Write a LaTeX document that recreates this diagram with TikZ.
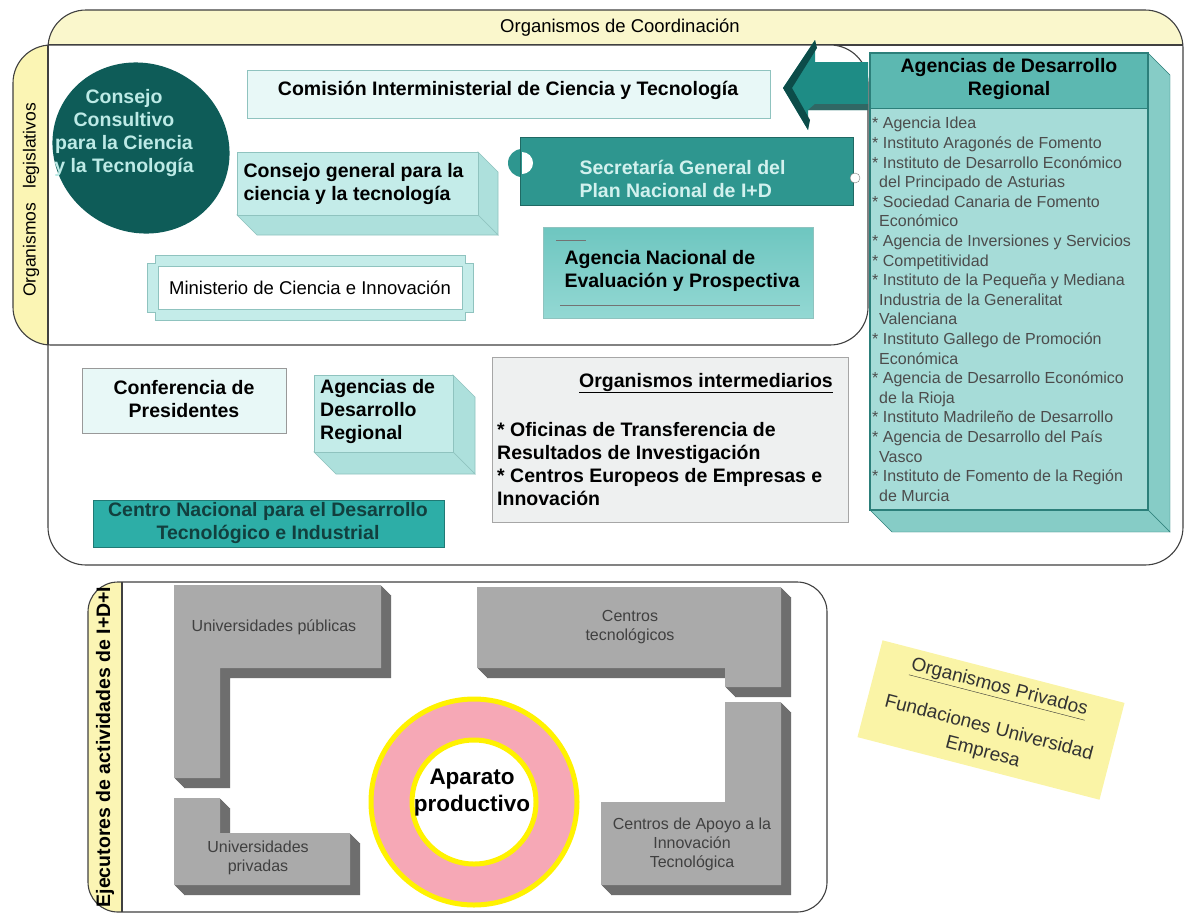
\documentclass[tikz,border=0pt]{standalone}
\usepackage{fontspec}
\setmainfont{Liberation Sans}
\definecolor{coordyel}{HTML}{FAF7CC}
\definecolor{stripyel}{HTML}{FBF5B4}
\definecolor{blobteal}{HTML}{0E5C58}
\definecolor{blobtext}{HTML}{BDEAE6}
\definecolor{boxpale}{HTML}{E8F8F7}
\definecolor{boxedge}{HTML}{8FC3BF}
\definecolor{cgfront}{HTML}{C4ECE9}
\definecolor{cgside}{HTML}{ADE0DC}
\definecolor{secteal}{HTML}{2E968F}
\definecolor{sectext}{HTML}{D2F1EE}
\definecolor{anepA}{HTML}{6EC6C0}
\definecolor{anepB}{HTML}{93D8D3}
\definecolor{arrowteal}{HTML}{1E8C85}
\definecolor{arrowdark}{HTML}{0C4C49}
\definecolor{adrhead}{HTML}{5CB8B1}
\definecolor{adrbody}{HTML}{A6DCD8}
\definecolor{adrside}{HTML}{86CCC6}
\definecolor{adredge}{HTML}{2C7F7A}
\definecolor{intergray}{HTML}{EEF0F0}
\definecolor{centroteal}{HTML}{2DAEA7}
\definecolor{centrotext}{HTML}{123F3E}
\definecolor{grayface}{HTML}{AAAAAA}
\definecolor{grayside}{HTML}{6E6E6E}
\definecolor{ringpink}{HTML}{F6A8B6}
\definecolor{ringyel}{HTML}{FFF200}
\definecolor{privyel}{HTML}{FAF4A6}

\begin{document}
\begin{tikzpicture}[x=1pt,y=-1pt,
  frame/.style={draw=black!75,line width=1.1pt},
  lbl/.style={font=\fontsize{18.5}{22}\selectfont},
  bold/.style={font=\fontsize{19.5}{23}\selectfont\bfseries},
  lightbox/.style={draw=boxedge,fill=boxpale,line width=0.8pt},
  sidebox/.style={draw=boxedge,fill=cgside,line width=0.6pt},
  listtxt/.style={font=\fontsize{16}{19.6}\selectfont,text=black!70,align=left,anchor=north west,inner sep=0pt},
  graytxt/.style={font=\fontsize{16}{19}\selectfont,text=black!75,align=center}]
  \useasboundingbox (0,0) rectangle (1185,916);

  \begin{scope}
    \clip[rounded corners=38] (48,10) rectangle (1183,565);
    \fill[white] (48,10) rectangle (1183,565);
    \fill[coordyel] (48,10) rectangle (1183,45);
  \end{scope}
  \draw[frame,rounded corners=38] (48,10) rectangle (1183,565);
  \draw[frame] (48,45) -- (1183,45);
  \node[lbl] (coordlbl) at (620,28) {Organismos de Coordinación};

  \begin{scope}
    \clip[rounded corners=38] (13,45) rectangle (868,345);
    \fill[white] (13,45) rectangle (868,345);
    \fill[stripyel] (13,45) rectangle (48,345);
  \end{scope}
  \draw[frame,rounded corners=38] (13,45) rectangle (868,345);
  \draw[frame] (48,45) -- (48,345);
  \node[font=\fontsize{17.5}{20}\selectfont,rotate=90] (leglbl) at (31,200) {Organismos\hspace{14pt}legislativos};

  \fill[blobteal,rotate around={-30:(141,148)}] (141,148) ellipse (90 and 84);
  \node[bold,text=blobtext,align=center] (consultivo) at (124,133) {Consejo\\Consultivo\\para la Ciencia\\y la Tecnología};

  \draw[lightbox] (247,70) rectangle (770,118);
  \node[bold] (comision) at (508,90) {Comisión Interministerial de Ciencia y Tecnología};

  \draw[sidebox] (478,152) -- (498,172) -- (498,235) -- (478,215) -- cycle;
  \draw[sidebox] (237,215) -- (478,215) -- (498,235) -- (257,235) -- cycle;
  \draw[lightbox,fill=cgfront] (237,152) rectangle (478,215);
  \node[bold,align=left,anchor=west] (general) at (240,184) {Consejo general para la\\ciencia y la tecnología};

  \draw[boxedge,line width=0.8pt,fill=cgfront] (147,263) -- (155,263) -- (155,255) -- (465,255) -- (465,263) -- (473,263)
    -- (473,312) -- (465,312) -- (465,320) -- (155,320) -- (155,312) -- (147,312) -- cycle;
  \draw[boxedge,fill=white] (158,266) rectangle (462,309);
  \node[lbl] (ministerio) at (310,288) {Ministerio de Ciencia e Innovación};

  \fill[secteal] (522,163) circle (14);
  \draw[secteal!70!black,line width=0.8pt,fill=secteal] (520,137) rectangle (853,205);
  \fill[white] (522,152) arc[start angle=-90,end angle=90,radius=11] -- cycle;
  \draw[gray,fill=white] (855,178) circle (5);
  \node[bold,text=sectext,align=left,anchor=west] (secretaria) at (576,179) {Secretaría General del\\Plan Nacional de I+D};

  \shade[top color=anepA,bottom color=anepB,draw=boxedge] (543,227) rectangle (813,318);
  \draw[black!55] (556,240) -- (586,240);
  \draw[black!55] (560,305) -- (800,305);
  \node[bold,align=left,anchor=west] (anep) at (561,271) {Agencia Nacional de\\Evaluación y Prospectiva};

  \fill[arrowteal] (868,62) -- (815,62) -- (815,40) -- (783,88) -- (808,130) -- (808,110) -- (868,110) -- cycle;
  \fill[arrowdark] (815,40) -- (783,88) -- (792,88) -- (817,48) -- cycle;
  \fill[arrowdark] (783,88) -- (808,130) -- (810,120) -- (792,88) -- cycle;
  \fill[arrowdark!85] (815,104) -- (868,104) -- (868,110) -- (808,110) -- cycle;

  \draw[adredge,fill=adrside] (1148,53) -- (1170,75) -- (1170,532) -- (1148,510) -- cycle;
  \draw[adredge,fill=adrside] (870,510) -- (1148,510) -- (1170,532) -- (892,532) -- cycle;
  \fill[adrbody] (870,108) rectangle (1148,510);
  \fill[adrhead] (870,53) rectangle (1148,108);
  \draw[adredge,line width=1.3pt] (870,53) rectangle (1148,510);
  \draw[adredge,line width=1pt] (870,108) -- (1148,108);
  \node[bold,align=center] (adrhead) at (1009,79) {Agencias de Desarrollo\\Regional};
  \node[listtxt] (adrlist) at (872,117) {* Agencia Idea\\
    * Instituto Aragonés de Fomento\\
    * Instituto de Desarrollo Económico\\
    \hspace*{7pt}del Principado de Asturias\\
    * Sociedad Canaria de Fomento\\
    \hspace*{7pt}Económico\\
    * Agencia de Inversiones y Servicios\\
    * Competitividad\\
    * Instituto de la Pequeña y Mediana\\
    \hspace*{7pt}Industria de la Generalitat\\
    \hspace*{7pt}Valenciana\\
    * Instituto Gallego de Promoción\\
    \hspace*{7pt}Económica\\
    * Agencia de Desarrollo Económico\\
    \hspace*{7pt}de la Rioja\\
    * Instituto Madrileño de Desarrollo\\
    * Agencia de Desarrollo del País\\
    \hspace*{7pt}Vasco\\
    * Instituto de Fomento de la Región\\
    \hspace*{7pt}de Murcia};

  \draw[lightbox,draw=black!40] (82,368) rectangle (286,433);
  \node[bold,align=center] (conferencia) at (184,399) {Conferencia de\\Presidentes};

  \draw[sidebox] (453,375) -- (475,397) -- (475,474) -- (453,452) -- cycle;
  \draw[sidebox] (314,452) -- (453,452) -- (475,474) -- (336,474) -- cycle;
  \draw[lightbox,fill=cgfront] (314,375) rectangle (453,452);
  \node[bold,align=left,anchor=north west,inner sep=0pt] (adrsmall) at (320,379) {Agencias de\\Desarrollo\\Regional};

  \draw[black!35,fill=intergray] (492,357) rectangle (848,522);
  \node[bold] (intertitle) at (706,383) {\underline{Organismos intermediarios}};
  \node[bold,align=left,anchor=north west,inner sep=0pt] (interlist) at (497,422)
    {* Oficinas de Transferencia de\\Resultados de Investigación\\* Centros Europeos de Empresas e\\Innovación};

  \draw[centroteal!70!black,fill=centroteal] (93,500) rectangle (444,547);
  \node[bold,text=centrotext,align=center] (cdti) at (268,523) {Centro Nacional para el Desarrollo\\Tecnológico e Industrial};

  \begin{scope}
    \clip[rounded corners=30] (88,582) rectangle (827,912);
    \fill[white] (88,582) rectangle (827,912);
    \fill[stripyel] (88,582) rectangle (122,912);
  \end{scope}
  \draw[frame,rounded corners=30] (88,582) rectangle (827,912);
  \draw[frame] (122,582) -- (122,912);
  \node[bold,rotate=90] (ejeclbl) at (105,747) {Ejecutores de actividades de I+D+I};

  \foreach \d in {1,...,10}
    \fill[grayside,shift={(\d,\d)}] (174,585) -- (381,585) -- (381,668) -- (220,668) -- (220,778) -- (174,778) -- cycle;
  \fill[grayface] (174,585) -- (381,585) -- (381,668) -- (220,668) -- (220,778) -- (174,778) -- cycle;
  \node[graytxt] (unipub) at (274,627) {Universidades públicas};

  \foreach \d in {1,...,10}
    \fill[grayside,shift={(\d,\d)}] (174,798) -- (220,798) -- (220,833) -- (350,833) -- (350,885) -- (174,885) -- cycle;
  \fill[grayface] (174,798) -- (220,798) -- (220,833) -- (350,833) -- (350,885) -- (174,885) -- cycle;
  \node[graytxt] (unipriv) at (258,858) {Universidades\\privadas};

  \foreach \d in {1,...,10}
    \fill[grayside,shift={(\d,\d)}] (477,587) -- (781,587) -- (781,687) -- (725,687) -- (725,668) -- (477,668) -- cycle;
  \fill[grayface] (477,587) -- (781,587) -- (781,687) -- (725,687) -- (725,668) -- (477,668) -- cycle;
  \node[graytxt] (centec) at (630,627) {Centros\\tecnológicos};

  \foreach \d in {1,...,10}
    \fill[grayside,shift={(\d,\d)}] (725,702) -- (781,702) -- (781,885) -- (601,885) -- (601,802) -- (725,802) -- cycle;
  \fill[grayface] (725,702) -- (781,702) -- (781,885) -- (601,885) -- (601,802) -- (725,802) -- cycle;
  \node[graytxt] (cenapoyo) at (692,844) {Centros de Apoyo a la\\Innovación\\Tecnológica};

  \fill[ringpink,even odd rule] (474,802) circle (104) (474,802) circle (61);
  \draw[ringyel,line width=5pt] (474,802) circle (103);
  \draw[ringyel,line width=5pt] (474,802) circle (62);
  \node[font=\fontsize{22.5}{27}\selectfont\bfseries,align=center] (aparato) at (472,793) {Aparato\\productivo};

  \node[fill=privyel,rotate=-14.5,minimum width=250,minimum height=100,align=center,
    font=\fontsize{19}{25}\selectfont,text=black!80] (privados) at (991,720)
    {\underline{Organismos Privados}\\[17pt]Fundaciones Universidad\\Empresa};
\end{tikzpicture}
\end{document}
